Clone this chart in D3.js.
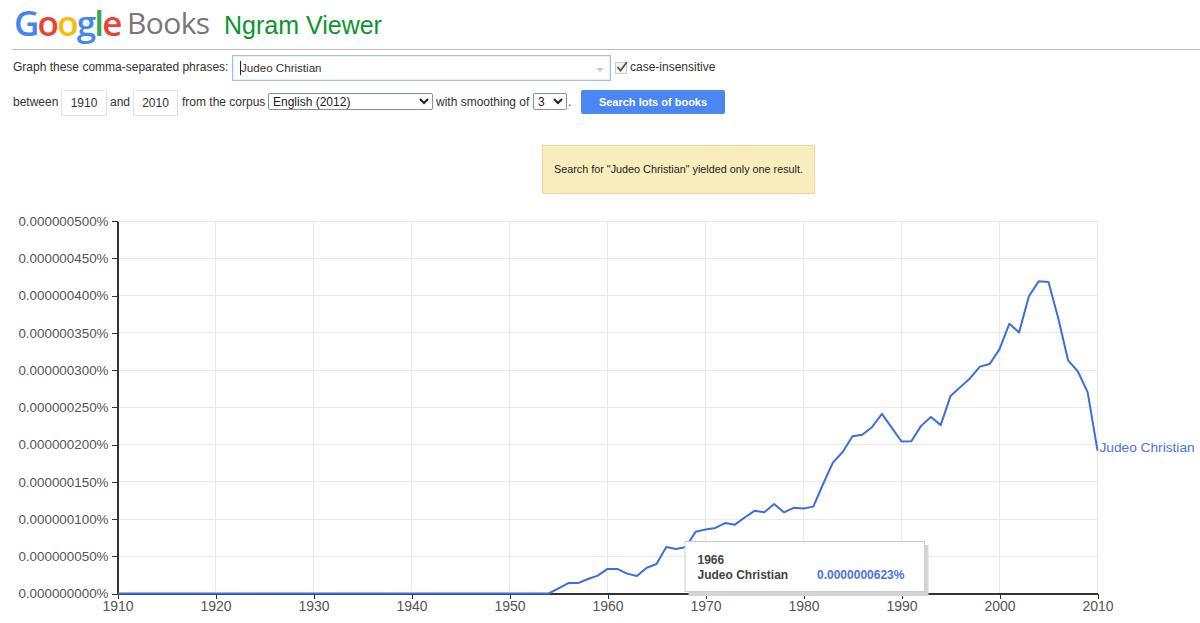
<!DOCTYPE html>
<html>
<head>
<meta charset="utf-8">
<script src="https://cdn.jsdelivr.net/npm/d3@7"></script>
<style>
html, body { margin: 0; padding: 0; background: #fff; overflow: hidden; }
body { width: 1200px; height: 623px; position: relative; font-family: "Liberation Sans", Arial, sans-serif; font-size: 12px; color: #333; }
.abs { position: absolute; white-space: nowrap; }
#logo { left: 14px; top: -1px; font-family: "Open Sans", sans-serif; font-weight: 600; font-size: 35px; line-height: 48px; letter-spacing: -1.8px; }
#books { left: 127px; top: -1px; font-family: "Open Sans", sans-serif; font-weight: 400; font-size: 30px; line-height: 48px; color: #777; letter-spacing: -0.6px; }
#viewer { left: 224px; top: 8px; font-size: 25px; line-height: 34px; color: #0a962d; }
#rule { left: 12px; top: 49px; width: 1188px; height: 1px; background: #bdbdbd; }
.box { box-sizing: border-box; border: 1px solid #e2e2e2; text-align: center; height: 26px; line-height: 25px; font-size: 12px; }
#phrase { left: 232px; top: 55px; width: 379px; height: 26px; box-sizing: border-box; border: 1px solid #9dbff5; outline: 0; line-height: 23px; padding-left: 7px; font-size: 11.6px; box-shadow: inset 0 0 0 0.5px #cfe0fb; }
#phrase i { display: inline-block; width: 1px; height: 14px; background: #222; vertical-align: -3px; margin-right: 0; }
#arrow { left: 596px; top: 68px; width: 0; height: 0; border-left: 4px solid transparent; border-right: 4px solid transparent; border-top: 4px solid #ccc; }
#check { left: 615px; top: 62px; width: 10px; height: 10px; border: 1px solid #ccc; background: #f4f4f4; }
select { position: absolute; box-sizing: border-box; font-family: "Liberation Sans", Arial, sans-serif; font-size: 12px; height: 17px; padding: 0; background: #fff; border: 1px solid #8f8f8f; border-radius: 2px; color: #222; }
#go { left: 581px; top: 90px; width: 144px; height: 24px; background: #4b87f3; border-radius: 2px; color: #fff; font-weight: bold; font-size: 11px; line-height: 24px; text-align: center; }
#note { left: 542px; top: 145px; width: 273px; height: 49px; box-sizing: border-box; background: #f9edbe; border: 1px solid #f0d68f; font-size: 10.8px; line-height: 47px; text-align: center; color: #222; }
#chart { position: absolute; left: 0; top: 0; }
.grid line { stroke: #e9e9e9; stroke-width: 1; shape-rendering: crispEdges; }
.axis text { font-family: "Liberation Sans", Arial, sans-serif; font-size: 14px; fill: #555; }
.axis.left text { font-size: 13.4px; }
.axis path, .axis line { stroke: #333; shape-rendering: crispEdges; }
.axis path { stroke-width: 2; }
</style>
</head>
<body>
<div class="abs" id="logo"><span style="color:#4285f4">G</span><span style="color:#ea4335">o</span><span style="color:#fbbc05">o</span><span style="color:#4285f4">g</span><span style="color:#34a853">l</span><span style="color:#ea4335">e</span></div>
<div class="abs" id="books">Books</div>
<div class="abs" id="viewer">Ngram Viewer</div>
<div class="abs" id="rule"></div>

<div class="abs" style="left:13px;top:60px">Graph these comma-separated phrases:</div>
<div class="abs" id="phrase"><i></i>Judeo Christian</div>
<div class="abs" id="arrow"></div>
<div class="abs" id="check"></div>
<svg class="abs" style="left:615px;top:60px" width="14" height="14"><path d="M2.5 7 L5.5 10.5 L12 2" fill="none" stroke="#555" stroke-width="1.8"/></svg>
<div class="abs" style="left:630px;top:60px">case-insensitive</div>

<div class="abs" style="left:13px;top:95px">between</div>
<div class="abs box" style="left:61px;top:90px;width:46px">1910</div>
<div class="abs" style="left:110px;top:95px">and</div>
<div class="abs box" style="left:133px;top:90px;width:45px">2010</div>
<div class="abs" style="left:182px;top:95px">from the corpus</div>
<select style="left:268px;top:93px;width:165px"><option>English (2012)</option></select>
<div class="abs" style="left:436px;top:95px">with smoothing of</div>
<select style="left:533px;top:93px;width:34px"><option>3</option></select>
<div class="abs" style="left:568px;top:95px">.</div>
<div class="abs" id="go">Search lots of books</div>
<div class="abs" id="note">Search for "Judeo Christian" yielded only one result.</div>

<svg id="chart" width="1200" height="623"></svg>

<script>
const years = d3.range(1910, 2011);

// leading years of zeros, then values in units of 0.000000001%
const zeroYears = 44; // 1910..1953
const readings = [
  0, 7, 14, 14, 19.5, 24, 33, 33, 26.7, 23.5,       // 1954-1963
  34.6, 39.6, 62.3, 59.6, 62.5, 83, 86, 88, 94.5, 92.4, // 1964-1973
  102, 111, 109, 120, 109, 115, 114, 116.6, 147, 175.7, // 1974-1983
  190, 211, 213, 223.5, 241, 222.7, 204, 204.3, 225, 237, // 1984-1993
  226, 265, 277, 289, 304.5, 308, 328, 362, 350.5, 399,   // 1994-2003
  419, 418, 369, 313, 298, 270, 191.7                     // 2004-2010
];
const values = new Array(zeroYears).fill(0).concat(readings);

const xTicks = [1910, 1920, 1930, 1940, 1950, 1960, 1970, 1980, 1990, 2000, 2010];
const yTicks = [0, 50, 100, 150, 200, 250, 300, 350, 400, 450, 500];

const seriesName = 'Judeo Christian';
const seriesColor = '#3b6fdf';

const x = d3.scaleLinear().domain([1910, 2010]).range([117.5, 1097.5]);
const y = d3.scaleLinear().domain([0, 500]).range([593.5, 221]);

const yLabel = d => (d * 1e-9).toFixed(9) + '%';

const svg = d3.select('#chart');

const grid = svg.append('g').attr('class', 'grid');
grid.selectAll('line.h').data(yTicks.slice(1)).join('line').attr('class', 'h')
  .attr('x1', x(1910)).attr('x2', x(2010))
  .attr('y1', d => y(d)).attr('y2', d => y(d));
grid.selectAll('line.v').data(xTicks.slice(1)).join('line').attr('class', 'v')
  .attr('y1', y(500)).attr('y2', y(0))
  .attr('x1', d => x(d)).attr('x2', d => x(d));

const line = d3.line().x((d, i) => x(years[i])).y(d => y(d));

svg.append('g').attr('class', 'axis left')
  .attr('transform', `translate(${x(1910)},0)`)
  .call(d3.axisLeft(y).tickValues(yTicks).tickFormat(yLabel).tickSize(6).tickSizeOuter(0).tickPadding(3));

svg.append('g').attr('class', 'axis')
  .attr('transform', `translate(0,${y(0)})`)
  .call(d3.axisBottom(x).tickValues(xTicks).tickFormat(d3.format('d')).tickSize(5).tickSizeOuter(0).tickPadding(3));

svg.append('path').datum(values)
  .attr('d', line).attr('fill', 'none')
  .attr('stroke', seriesColor).attr('stroke-width', 2).attr('stroke-linejoin', 'round');

svg.append('text').attr('x', x(2010) + 2).attr('y', y(values[100]) - 3.5)
  .attr('font-size', 13.7).attr('fill', '#4a72e0')
  .attr('dy', '0.35em')
  .text(seriesName);

// hover box for 1966
const tipYear = 1966;
const tip = svg.append('g').attr('transform', 'translate(685,541.5)');
tip.append('rect').attr('x', 3.5).attr('y', 3.5).attr('width', 240).attr('height', 51).attr('fill', '#d4d4d4');
tip.append('rect').attr('width', 239.5).attr('height', 50).attr('fill', '#fff').attr('stroke', '#ccc');
tip.append('text').attr('x', 12.5).attr('y', 22.5).attr('font-size', 12).attr('font-weight', 'bold').attr('fill', '#444').text(tipYear);
tip.append('text').attr('x', 12.5).attr('y', 37).attr('font-size', 12).attr('font-weight', 'bold').attr('fill', '#444').text(seriesName);
tip.append('text').attr('x', 132).attr('y', 37).attr('font-size', 12).attr('font-weight', 'bold').attr('fill', '#4a72e0')
  .text((values[years.indexOf(tipYear)] * 1e-9).toFixed(10) + '%');
</script>
</body>
</html>
